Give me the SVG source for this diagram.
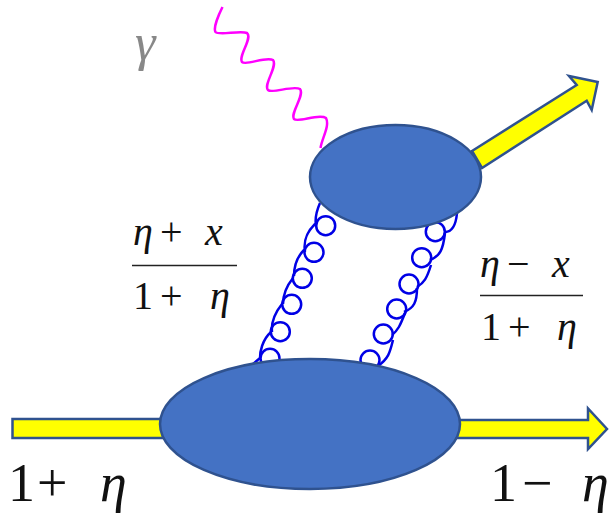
<svg xmlns="http://www.w3.org/2000/svg" width="609" height="516" viewBox="0 0 609 516">
<style>
.blob{fill:#4472c4;stroke:#2f528f;stroke-width:2.5}
.arrow{fill:#ffff00;stroke:#2f528f;stroke-width:2.5;stroke-linejoin:miter}
.gluon{fill:none;stroke:#0000e6;stroke-width:2.5}
.photon{fill:none;stroke:#ff00ff;stroke-width:2.5}
.m{font-family:"Liberation Serif","DejaVu Serif",serif;fill:#111}
.i{font-style:italic}
.rule{stroke:#222;stroke-width:1.5}
</style>
<g id="connectors">
<path id="photon" class="photon" d="M222.5 7C219 14 213 28 215.500 32C219 36 240 30 247 33C253 38 238 56 242 62C246 66 266 56 273 60C278 66 263 85 268 90C272 94 293 85 300 89C305 95 290 113 294 119C298 123 319 113 326 118C330 126 322 138 320.500 148"/>
<g id="gluon-left" class="gluon">
<path d="M320 203C316 212 315 220 316 226M315 224C307 232 303 240 305 252M304 250C296 258 294 268 294 276M293 278C285 288 283 296 283 304M282 304C274 314 271 322 272 332M271 332C262 340 260 352 260 358L252 365"/>
<circle cx="325.700" cy="225.700" r="9.500"/><circle cx="314" cy="252.300" r="9.500"/><circle cx="302.300" cy="278.300" r="9.500"/><circle cx="291.700" cy="304.300" r="9.500"/><circle cx="280.300" cy="331.700" r="9.500"/><circle cx="270" cy="358.300" r="9.500"/>
</g>
<g id="gluon-right" class="gluon">
<path d="M457 213C456 224 453 232 445 232M445 233C443 250 440 256 430 260M431 265C427 278 424 283 417 287M417 288C417 302 414 308 404 312M405 313C400 326 398 330 392 335M393 340C390 352 389 358 378 366"/>
<circle cx="435.300" cy="231.700" r="9.500"/><circle cx="421.700" cy="257.700" r="9.500"/><circle cx="409" cy="284" r="9.500"/><circle cx="396.700" cy="309" r="9.500"/><circle cx="383.300" cy="334" r="9.500"/><circle cx="370" cy="360" r="9.500"/>
</g>
</g>
<g id="arrow-in"><rect class="arrow" x="12.500" y="419" width="155" height="19"/></g>
<g id="arrow-out"><path class="arrow" d="M450 420H588V408.500L607 429L588 449V438H450Z"/></g>
<g id="arrow-up"><path class="arrow" d="M472 151L576.700 85L569 76L597.700 82L591.700 110L586.700 100.700L482 168Z"/></g>
<g id="blob-top"><ellipse class="blob" cx="395.500" cy="177" rx="85.500" ry="52"/></g>
<g id="blob-bottom"><ellipse class="blob" cx="310" cy="424" rx="150" ry="65"/></g>
<g id="labels">
<text class="m i" x="135" y="60" font-size="52" fill-opacity="0.7" style="fill:#555">γ</text>
<text class="m" font-size="40" y="245"><tspan class="i" x="133">η</tspan><tspan x="160">+</tspan><tspan class="i" x="205">x</tspan></text>
<line class="rule" x1="132" y1="265.500" x2="237" y2="265.500"/>
<text class="m" font-size="40" y="309"><tspan x="133">1</tspan><tspan x="160">+</tspan><tspan class="i" x="210">η</tspan></text>
<text class="m" font-size="40" y="277"><tspan class="i" x="480">η</tspan><tspan x="507">−</tspan><tspan class="i" x="552">x</tspan></text>
<line class="rule" x1="480" y1="295.500" x2="583" y2="295.500"/>
<text class="m" font-size="40" y="340"><tspan x="481">1</tspan><tspan x="508">+</tspan><tspan class="i" x="557">η</tspan></text>
<text class="m" font-size="54" y="501"><tspan x="8">1</tspan><tspan x="37">+</tspan><tspan class="i" x="100">η</tspan></text>
<text class="m" font-size="54" y="501"><tspan x="490">1</tspan><tspan x="522">−</tspan><tspan class="i" x="582">η</tspan></text>
</g>
</svg>
